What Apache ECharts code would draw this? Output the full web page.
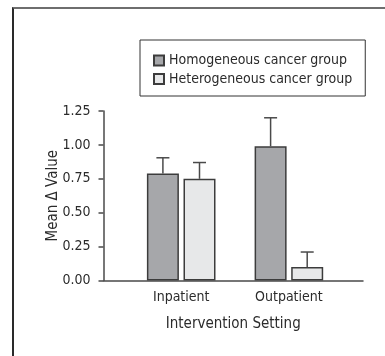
<!DOCTYPE html>
<html>
<head>
<meta charset="utf-8">
<script src="https://cdn.jsdelivr.net/npm/echarts@6/dist/echarts.min.js"></script>
<style>
  html, body { margin: 0; padding: 0; background: #fff; }
  #wrap { position: relative; width: 385px; height: 356px; overflow: hidden; }
  #frame {
    position: absolute; left: 12px; top: 7px; width: 400px; height: 400px;
    border-left: 2px solid #2a2a2a; border-top: 2px solid #6e6e6e;
  }
  #chart { position: absolute; left: 0; top: 0; width: 385px; height: 356px; }
</style>
</head>
<body>
<div id="wrap">
  <div id="frame"></div>
  <div id="chart"></div>
</div>
<script>
// Mean change by intervention setting, with upper error bars
const categories = ['Inpatient', 'Outpatient'];
const seriesNames = ['Homogeneous cancer group', 'Heterogeneous cancer group'];
const homogeneousMean = [0.79, 0.99];
const homogeneousErr = [0.115, 0.21];
const heterogeneousMean = [0.75, 0.10];
const heterogeneousErr = [0.12, 0.11];
const yTicks = [0, 0.25, 0.5, 0.75, 1.0, 1.25];

const FONT = "'Liberation Sans Narrow', 'DejaVu Sans Condensed', 'Roboto Condensed', 'Liberation Sans', Arial, sans-serif";
const TEXT = '#2b2b2b';
const LINE = '#4a4a4a';
const BAR_W = 32;
const BAR_GAP_PX = 4.6;

const chart = echarts.init(document.getElementById('chart'), null, { renderer: 'canvas' });

// Vertical whisker with a cap, offset to sit over its bar inside the category band
function errorBar(side, means, errs) {
  return {
    type: 'custom',
    xAxisIndex: 1,
    yAxisIndex: 1,
    z: 1,
    silent: true,
    data: categories.map((c, i) => [i, means[i], means[i] + errs[i]]),
    renderItem: function (params, api) {
      const base = api.coord([api.value(0), api.value(1)]);
      const top = api.coord([api.value(0), api.value(2)]);
      const dx = side * (BAR_W / 2 + BAR_GAP_PX / 2);
      const x = base[0] + dx;
      const half = 6.5;
      const style = { stroke: LINE, lineWidth: 1.5, fill: null };
      return {
        type: 'group',
        children: [
          { type: 'line', shape: { x1: x, y1: base[1], x2: x, y2: top[1] }, style: style },
          { type: 'line', shape: { x1: x - half, y1: top[1], x2: x + half, y2: top[1] }, style: style }
        ]
      };
    }
  };
}

const option = {
  animation: false,
  textStyle: { fontFamily: FONT },
  legend: {
    orient: 'vertical',
    left: 140,
    top: 40,
    data: seriesNames,
    itemWidth: 10,
    itemHeight: 10,
    itemGap: 4.5,
    padding: [13.5, 13, 10, 13],
    borderColor: '#333',
    borderWidth: 1,
    icon: 'rect',
    textStyle: { fontFamily: FONT, fontSize: 14, color: TEXT, lineHeight: 14 },
    selectedMode: false
  },
  grid: [
    { left: 103.5, top: 111, width: 259.5, height: 169.5 },
    { left: 127.35, top: 111, width: 215.4, height: 169.5 }
  ],
  xAxis: [
    {
      type: 'value', gridIndex: 0, min: 0, max: 1,
      axisLine: { show: true, lineStyle: { color: LINE, width: 1.5 } },
      axisTick: { show: false }, axisLabel: { show: false }, splitLine: { show: false },
      name: 'Intervention Setting', nameLocation: 'middle', nameGap: 36,
      nameMoveOverlap: false,
      nameTextStyle: { fontFamily: FONT, fontSize: 15, color: TEXT }
    },
    {
      type: 'category', gridIndex: 1, data: categories,
      axisLine: { show: false }, axisTick: { show: false },
      axisLabel: { margin: 10, fontFamily: FONT, fontSize: 14, color: TEXT }
    }
  ],
  yAxis: [
    {
      type: 'value', gridIndex: 0,
      min: yTicks[0], max: yTicks[yTicks.length - 1], interval: 0.25,
      axisLine: { show: true, lineStyle: { color: LINE, width: 1.5 } },
      axisTick: { show: true, inside: false, length: 5, lineStyle: { color: LINE, width: 1.5 } },
      axisLabel: { margin: 13, fontFamily: FONT, fontSize: 14, color: TEXT,
                   formatter: v => v.toFixed(2) },
      splitLine: { show: false },
      name: 'Mean \u0394 Value', nameLocation: 'middle', nameGap: 43,
      nameMoveOverlap: false,
      nameTextStyle: { fontFamily: FONT, fontSize: 15, color: TEXT }
    },
    {
      type: 'value', gridIndex: 1,
      min: yTicks[0], max: yTicks[yTicks.length - 1],
      show: false
    }
  ],
  series: [
    {
      name: seriesNames[0], type: 'bar', xAxisIndex: 1, yAxisIndex: 1,
      data: homogeneousMean, barWidth: BAR_W, barGap: (BAR_GAP_PX / BAR_W * 100) + '%',
      itemStyle: { color: '#a6a7aa', borderColor: '#3c3c3c', borderWidth: 1.5 },
      z: 2
    },
    {
      name: seriesNames[1], type: 'bar', xAxisIndex: 1, yAxisIndex: 1,
      data: heterogeneousMean, barWidth: BAR_W,
      itemStyle: { color: '#e7e8e9', borderColor: '#3c3c3c', borderWidth: 1.5 },
      z: 2
    },
    errorBar(-1, homogeneousMean, homogeneousErr),
    errorBar(1, heterogeneousMean, heterogeneousErr)
  ]
};

chart.setOption(option);
</script>
</body>
</html>
